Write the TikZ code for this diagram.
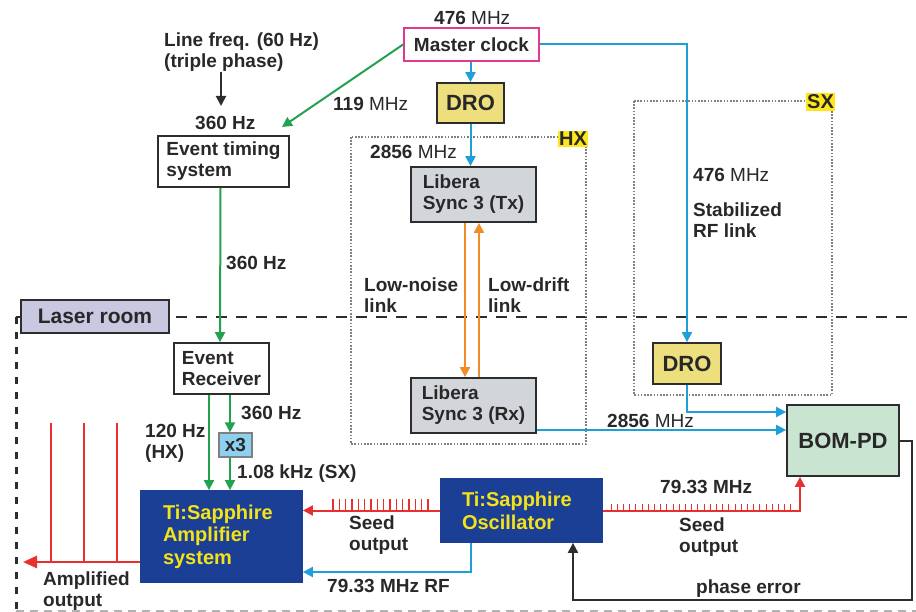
\documentclass[tikz,border=0pt]{standalone}
\usepackage{fontspec}
\setmainfont{Liberation Sans}
\usetikzlibrary{arrows.meta,calc}
\definecolor{txt}{RGB}{40,40,40}
\definecolor{boxline}{RGB}{45,45,45}
\definecolor{cgreen}{RGB}{35,162,77}
\definecolor{cblue}{RGB}{30,159,217}
\definecolor{corange}{RGB}{242,140,40}
\definecolor{cred}{RGB}{232,49,47}
\definecolor{cmag}{RGB}{226,56,143}
\definecolor{drofill}{RGB}{238,223,126}
\definecolor{libfill}{RGB}{210,214,218}
\definecolor{bomfill}{RGB}{201,229,210}
\definecolor{laserfill}{RGB}{200,200,224}
\definecolor{xfill}{RGB}{141,208,240}
\definecolor{dblue}{RGB}{27,63,148}
\definecolor{ytxt}{RGB}{245,227,26}
\definecolor{ylab}{RGB}{255,230,26}
\definecolor{dotgray}{RGB}{128,128,128}
\begin{document}
\begin{tikzpicture}[x=1pt,y=-1pt,
  every node/.style={font=\fontsize{19}{21}\selectfont\bfseries, text=txt},
  box/.style={draw=boxline, line width=1.8pt, inner sep=0pt, align=center},
  lbox/.style={draw=boxline, line width=1.8pt, inner sep=0pt, align=left},
  lbl/.style={anchor=base west, inner sep=0pt, align=left},
  tip/.style={-{Triangle[length=10pt,width=10pt]}},
  garr/.style={draw=cgreen, line width=2pt, tip},
  barr/.style={draw=cblue, line width=2pt, tip},
  oarr/.style={draw=corange, line width=2pt, tip},
  rarr/.style={draw=cred, line width=2pt, tip},
  karr/.style={draw=boxline, line width=2pt, tip},
  tag/.style={fill=ylab, inner sep=1.5pt, font=\fontsize{20}{22}\selectfont\bfseries},
  dotbox/.style={draw=dotgray, line width=1.6pt, dash pattern=on 1.6pt off 1.6pt}
]
\useasboundingbox (0,0) rectangle (916,612);

% region borders
\draw[boxline, line width=2.4pt, dash pattern=on 11pt off 9pt] (16,317) -- (916,317);
\draw[boxline, line width=3pt, dash pattern=on 7pt off 8pt] (16,317) -- (16,612);
\draw[gray!60, line width=1.5pt, dash pattern=on 8pt off 6pt] (16,611) -- (916,611);
\draw[dotbox] (351,137) rectangle (586,444);
\draw[dotbox] (634,101) rectangle (832,395);
\node[tag] (hx) at (573,139) {HX};
\node[tag] (sx) at (820.5,102) {SX};

% boxes
\node[box, draw=cmag, minimum width=135pt, minimum height=33pt] (master) at (471.5,44.5) {Master clock};
\node[box, fill=drofill, minimum width=67pt, minimum height=40pt, font=\fontsize{22}{24}\selectfont\bfseries] (dro1) at (470.5,103) {DRO};
\node[lbox, minimum width=131pt, minimum height=51pt] (ets) at (223.5,161.5) {Event timing\\system};
\node[lbox, fill=libfill, minimum width=125pt, minimum height=55pt] (libtx) at (473.5,194.5) {Libera\\Sync 3 (Tx)};
\node[lbox, fill=libfill, minimum width=125pt, minimum height=55pt] (librx) at (473.5,405.5) {Libera\\Sync 3 (Rx)};
\node[box, fill=drofill, minimum width=68pt, minimum height=41pt, font=\fontsize{22}{24}\selectfont\bfseries] (dro2) at (687,363.5) {DRO};
\node[box, fill=bomfill, minimum width=112pt, minimum height=71pt, font=\fontsize{22}{24}\selectfont\bfseries] (bom) at (843,440.5) {BOM-PD};
\node[box, fill=laserfill, minimum width=148pt, minimum height=33pt, font=\fontsize{21}{23}\selectfont\bfseries] (laser) at (95,316.5) {Laser room};
\node[lbox, minimum width=95pt, minimum height=51pt] (evr) at (221.5,368.5) {Event\\Receiver};
\node[box, fill=xfill, draw=dotgray, line width=1.2pt, minimum width=33pt, minimum height=24pt] (x3) at (235.5,445) {x3};
\node[lbox, fill=dblue, draw=dblue, inner xsep=22pt, text width=117pt, minimum height=91pt, text=ytxt, font=\fontsize{20}{22.5}\selectfont\bfseries] (amp) at (221.5,536.5) {Ti:Sapphire\\Amplifier\\system};
\node[lbox, fill=dblue, draw=dblue, inner xsep=21pt, text width=119pt, minimum height=63pt, text=ytxt, font=\fontsize{20}{23}\selectfont\bfseries] (osc) at (521.5,510.5) {Ti:Sapphire\\Oscillator};

% text labels (anchor = baseline of the last line)
\node[lbl] (l476a) at (434,24.5) {476 \mdseries MHz};
\node[lbl] (linefreq) at (164,67.5) {Line freq. (60 Hz)\\(triple phase)};
\node[lbl] (l360a) at (195,130) {360 Hz};
\node[lbl] (l119) at (333,111) {119 \mdseries MHz};
\node[lbl] (l360b) at (226,270) {360 Hz};
\node[lbl] (l2856a) at (370,159) {2856 \mdseries MHz};
\node[lbl] (lnoise) at (364,313) {Low-noise\\link};
\node[lbl] (ldrift) at (488,313) {Low-drift\\link};
\node[lbl] (l476b) at (693,182) {476 \mdseries MHz};
\node[lbl] (lstab) at (693,238) {Stabilized\\RF link};
\node[lbl] (l2856b) at (607,427) {2856 \mdseries MHz};
\node[lbl] (l360c) at (241,419) {360 Hz};
\node[lbl] (l120) at (145,458) {120 Hz\\(HX)};
\node[lbl] (l108) at (237,478) {1.08 kHz (SX)};
\node[lbl] (lseed1) at (349,550) {Seed\\output};
\node[lbl] (lrf) at (327,592) {79.33 MHz RF};
\node[lbl] (lamp) at (43,606) {Amplified\\output};
\node[lbl] (l7933) at (660,493) {79.33 MHz};
\node[lbl] (lseed2) at (679,552) {Seed\\output};
\node[lbl] (lpe) at (696,593) {phase error};

% connectors
\coordinate (lfend) at (221,106);
\draw[karr] (linefreq.south -| lfend) -- (lfend);
\draw[barr] (dro1.north |- master.south) -- (dro1.north);
\draw[barr] (dro1.south) -- (dro1.south |- libtx.north);
\draw[barr] (master.east) -| (dro2.north);
\coordinate (etsin) at (282,127);
\draw[garr] (master.west) -- (etsin);
\draw[garr] ([xshift=-3pt]ets.south) -- ([xshift=-1.5pt]evr.north);
\draw[garr] ([xshift=-12.5pt]evr.south) -- ([xshift=-12.5pt]amp.north);
\draw[garr] ([xshift=8.5pt]evr.south) -- ([xshift=-5.5pt]x3.north);
\draw[garr] ([xshift=-5.5pt]x3.south) -- ([xshift=8.5pt]amp.north);
\draw[oarr] ([xshift=-8.5pt]libtx.south) -- ([xshift=-8.5pt]librx.north);
\draw[oarr] ([xshift=5.5pt]librx.north) -- ([xshift=5.5pt]libtx.south);
\coordinate (rxo) at ([yshift=-24.5pt]librx.east);
\draw[barr] (rxo) -- (rxo -| bom.west);
\coordinate (bin) at ([yshift=28.5pt]bom.west);
\draw[barr] (dro2.south) |- (bin);
\draw[rarr] (osc.west) -- (osc.west -| amp.east);
\foreach \i in {0,...,15} \draw[cred, line width=1.2pt] (333+\i*6.33,512) -- ++(0,-13);
\coordinate (bomseed) at ([xshift=-43pt]bom.south);
\draw[rarr] (osc.east) -| (bomseed);
\foreach \i in {0,...,29} \draw[cred, line width=1pt] (611+\i*6.2,510) -- ++(0,-6);
\coordinate (oscrf) at ([xshift=-50.5pt]osc.south);
\coordinate (amprf) at ([yshift=-35.5pt]amp.east);
\draw[barr] (oscrf) |- (amprf);
\coordinate (oscpe) at ([xshift=51.5pt]osc.south);
\draw[karr] (bom.east) -- ++(12,0) |- ($(oscpe)+(0,57)$) -- (oscpe);
\coordinate (ampout) at ([yshift=-25.5pt]amp.west);
\coordinate (outend) at (23,562);
\draw[cred, line width=2.5pt, -{Triangle[length=14pt,width=12pt]}] (ampout) -- (outend);
\foreach \x in {51,84,117} \draw[cred, line width=2pt] (\x,562) -- (\x,423);
\end{tikzpicture}
\end{document}
